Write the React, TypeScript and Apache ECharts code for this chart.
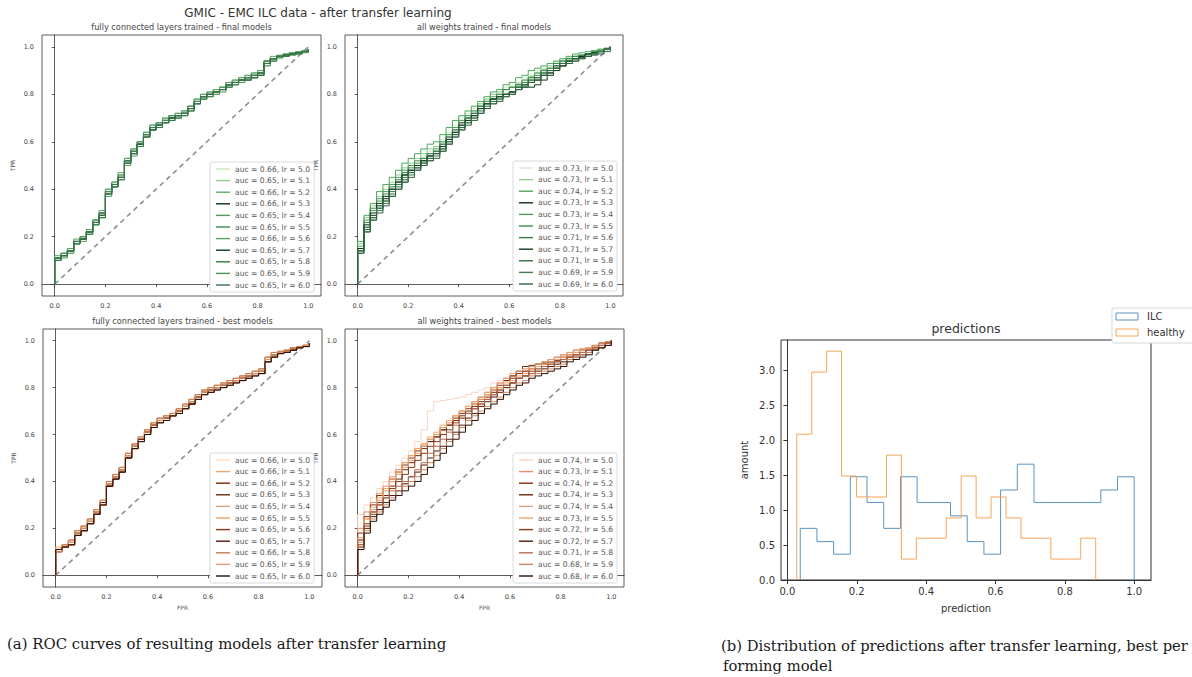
import React, { useEffect, useRef } from 'react';
import * as echarts from 'echarts';

// ---------- data ----------
const FPR_GRID = [
  0, 0.025, 0.05, 0.075, 0.1, 0.125, 0.15, 0.175, 0.2, 0.225, 0.25, 0.275, 0.3, 0.325, 0.35, 0.375, 0.4, 0.425, 0.45, 0.475,
  0.5, 0.525, 0.55, 0.575, 0.6, 0.625, 0.65, 0.675, 0.7, 0.725, 0.75, 0.775, 0.8, 0.825, 0.85, 0.875, 0.9, 0.925, 0.95, 0.975, 1.0,
];
const LR_VALUES = ['5.0', '5.1', '5.2', '5.3', '5.4', '5.5', '5.6', '5.7', '5.8', '5.9', '6.0'];
const ROC_TICKS = [0, 0.2, 0.4, 0.6, 0.8, 1.0];

const AUC_FC_FINAL = ['0.66', '0.65', '0.66', '0.66', '0.65', '0.65', '0.66', '0.65', '0.65', '0.65', '0.65'];
const AUC_ALL_FINAL = ['0.73', '0.73', '0.74', '0.73', '0.73', '0.73', '0.71', '0.71', '0.71', '0.69', '0.69'];
const AUC_FC_BEST = ['0.66', '0.66', '0.66', '0.65', '0.65', '0.65', '0.65', '0.65', '0.66', '0.65', '0.65'];
const AUC_ALL_BEST = ['0.74', '0.73', '0.74', '0.74', '0.74', '0.73', '0.72', '0.72', '0.71', '0.68', '0.68'];

const TPR_FC_FINAL = [
  [0.11, 0.12, 0.14, 0.18, 0.19, 0.22, 0.26, 0.29, 0.39, 0.42, 0.45, 0.52, 0.56, 0.59, 0.63, 0.66, 0.67, 0.69, 0.70, 0.71, 0.72, 0.74, 0.77, 0.79, 0.80, 0.81, 0.82, 0.84, 0.85, 0.86, 0.87, 0.88, 0.89, 0.93, 0.95, 0.96, 0.965, 0.97, 0.975, 0.98, 0.99],
  [0.10, 0.12, 0.13, 0.17, 0.19, 0.21, 0.25, 0.28, 0.38, 0.41, 0.45, 0.51, 0.55, 0.58, 0.62, 0.65, 0.67, 0.68, 0.70, 0.70, 0.71, 0.73, 0.76, 0.78, 0.80, 0.80, 0.82, 0.83, 0.85, 0.85, 0.86, 0.87, 0.88, 0.92, 0.94, 0.95, 0.96, 0.965, 0.97, 0.98, 0.99],
  [0.11, 0.13, 0.15, 0.18, 0.20, 0.23, 0.27, 0.30, 0.40, 0.43, 0.46, 0.53, 0.57, 0.60, 0.64, 0.67, 0.68, 0.70, 0.71, 0.72, 0.73, 0.75, 0.78, 0.80, 0.81, 0.82, 0.83, 0.85, 0.86, 0.87, 0.88, 0.89, 0.90, 0.94, 0.95, 0.96, 0.97, 0.975, 0.98, 0.985, 0.99],
  [0.11, 0.12, 0.14, 0.17, 0.19, 0.22, 0.26, 0.30, 0.39, 0.41, 0.44, 0.52, 0.55, 0.59, 0.63, 0.66, 0.67, 0.69, 0.70, 0.71, 0.72, 0.74, 0.77, 0.79, 0.80, 0.81, 0.82, 0.84, 0.85, 0.86, 0.87, 0.88, 0.89, 0.94, 0.95, 0.96, 0.965, 0.97, 0.975, 0.98, 0.99],
  [0.10, 0.11, 0.13, 0.17, 0.18, 0.21, 0.25, 0.28, 0.37, 0.41, 0.44, 0.50, 0.54, 0.58, 0.62, 0.65, 0.66, 0.68, 0.69, 0.70, 0.71, 0.73, 0.76, 0.78, 0.79, 0.80, 0.81, 0.83, 0.84, 0.85, 0.86, 0.87, 0.88, 0.92, 0.94, 0.955, 0.96, 0.965, 0.97, 0.975, 0.985],
  [0.11, 0.12, 0.14, 0.18, 0.19, 0.22, 0.27, 0.29, 0.38, 0.42, 0.45, 0.52, 0.56, 0.59, 0.63, 0.66, 0.68, 0.69, 0.70, 0.71, 0.72, 0.74, 0.77, 0.79, 0.80, 0.81, 0.82, 0.84, 0.85, 0.86, 0.87, 0.88, 0.89, 0.93, 0.95, 0.96, 0.965, 0.97, 0.975, 0.98, 0.99],
  [0.12, 0.13, 0.15, 0.19, 0.20, 0.23, 0.27, 0.31, 0.40, 0.43, 0.47, 0.53, 0.57, 0.60, 0.64, 0.67, 0.68, 0.70, 0.71, 0.72, 0.73, 0.75, 0.78, 0.80, 0.81, 0.82, 0.83, 0.85, 0.86, 0.87, 0.88, 0.89, 0.90, 0.94, 0.96, 0.965, 0.97, 0.975, 0.98, 0.985, 0.99],
  [0.11, 0.12, 0.14, 0.18, 0.19, 0.22, 0.26, 0.29, 0.39, 0.42, 0.45, 0.51, 0.56, 0.59, 0.63, 0.65, 0.67, 0.69, 0.70, 0.71, 0.72, 0.74, 0.77, 0.79, 0.80, 0.81, 0.82, 0.84, 0.85, 0.86, 0.87, 0.87, 0.88, 0.93, 0.95, 0.96, 0.965, 0.97, 0.975, 0.98, 0.99],
  [0.10, 0.12, 0.14, 0.17, 0.19, 0.21, 0.25, 0.28, 0.38, 0.41, 0.45, 0.51, 0.55, 0.58, 0.62, 0.65, 0.66, 0.68, 0.69, 0.70, 0.71, 0.73, 0.76, 0.78, 0.79, 0.81, 0.82, 0.83, 0.84, 0.86, 0.86, 0.87, 0.88, 0.93, 0.94, 0.96, 0.96, 0.97, 0.97, 0.98, 0.99],
  [0.11, 0.13, 0.14, 0.18, 0.20, 0.22, 0.26, 0.30, 0.39, 0.42, 0.46, 0.52, 0.56, 0.60, 0.63, 0.66, 0.67, 0.69, 0.71, 0.71, 0.72, 0.75, 0.77, 0.79, 0.80, 0.81, 0.83, 0.84, 0.85, 0.86, 0.87, 0.88, 0.89, 0.93, 0.95, 0.96, 0.965, 0.97, 0.975, 0.98, 0.99],
  [0.10, 0.12, 0.14, 0.18, 0.19, 0.22, 0.26, 0.29, 0.38, 0.42, 0.45, 0.52, 0.55, 0.59, 0.62, 0.66, 0.67, 0.68, 0.70, 0.71, 0.72, 0.74, 0.76, 0.79, 0.80, 0.81, 0.82, 0.84, 0.85, 0.86, 0.86, 0.88, 0.89, 0.93, 0.95, 0.96, 0.965, 0.97, 0.975, 0.98, 0.99],
];

const TPR_ALL_FINAL = [
  [0.15, 0.25, 0.30, 0.34, 0.37, 0.41, 0.44, 0.47, 0.50, 0.52, 0.54, 0.56, 0.58, 0.61, 0.64, 0.67, 0.70, 0.72, 0.74, 0.76, 0.78, 0.80, 0.81, 0.83, 0.84, 0.85, 0.87, 0.88, 0.90, 0.91, 0.92, 0.94, 0.95, 0.955, 0.96, 0.965, 0.97, 0.975, 0.98, 0.99, 1.0],
  [0.17, 0.28, 0.33, 0.37, 0.40, 0.43, 0.46, 0.49, 0.51, 0.53, 0.55, 0.57, 0.58, 0.60, 0.63, 0.66, 0.69, 0.71, 0.73, 0.76, 0.78, 0.80, 0.81, 0.82, 0.83, 0.845, 0.86, 0.875, 0.89, 0.905, 0.92, 0.93, 0.94, 0.95, 0.96, 0.965, 0.97, 0.98, 0.99, 0.99, 1.0],
  [0.18, 0.29, 0.34, 0.39, 0.42, 0.45, 0.48, 0.51, 0.53, 0.55, 0.57, 0.59, 0.60, 0.63, 0.66, 0.69, 0.71, 0.73, 0.75, 0.77, 0.79, 0.81, 0.82, 0.84, 0.85, 0.87, 0.88, 0.90, 0.91, 0.92, 0.93, 0.94, 0.95, 0.96, 0.97, 0.975, 0.98, 0.985, 0.99, 0.995, 1.0],
  [0.14, 0.24, 0.29, 0.33, 0.36, 0.40, 0.43, 0.46, 0.48, 0.50, 0.52, 0.54, 0.56, 0.59, 0.62, 0.65, 0.68, 0.70, 0.72, 0.75, 0.77, 0.78, 0.79, 0.80, 0.81, 0.83, 0.84, 0.85, 0.86, 0.88, 0.89, 0.91, 0.92, 0.94, 0.95, 0.96, 0.97, 0.975, 0.98, 0.99, 1.0],
  [0.16, 0.27, 0.31, 0.36, 0.39, 0.42, 0.45, 0.48, 0.50, 0.52, 0.53, 0.55, 0.57, 0.60, 0.63, 0.66, 0.69, 0.71, 0.73, 0.75, 0.77, 0.79, 0.80, 0.82, 0.83, 0.84, 0.86, 0.87, 0.89, 0.90, 0.91, 0.93, 0.94, 0.95, 0.96, 0.965, 0.97, 0.98, 0.985, 0.99, 1.0],
  [0.15, 0.26, 0.32, 0.35, 0.38, 0.41, 0.44, 0.47, 0.49, 0.51, 0.53, 0.55, 0.56, 0.58, 0.61, 0.64, 0.67, 0.70, 0.72, 0.74, 0.76, 0.78, 0.80, 0.82, 0.83, 0.84, 0.85, 0.87, 0.88, 0.90, 0.91, 0.93, 0.94, 0.95, 0.96, 0.965, 0.97, 0.975, 0.98, 0.99, 1.0],
  [0.14, 0.23, 0.28, 0.32, 0.35, 0.39, 0.42, 0.45, 0.47, 0.49, 0.51, 0.53, 0.55, 0.57, 0.60, 0.63, 0.66, 0.69, 0.71, 0.74, 0.76, 0.78, 0.79, 0.80, 0.81, 0.83, 0.84, 0.86, 0.87, 0.89, 0.90, 0.92, 0.93, 0.94, 0.95, 0.955, 0.96, 0.97, 0.98, 0.99, 1.0],
  [0.15, 0.25, 0.30, 0.34, 0.37, 0.40, 0.43, 0.46, 0.48, 0.50, 0.52, 0.54, 0.55, 0.58, 0.61, 0.64, 0.67, 0.69, 0.71, 0.74, 0.76, 0.78, 0.79, 0.80, 0.81, 0.82, 0.83, 0.83, 0.84, 0.86, 0.88, 0.90, 0.92, 0.94, 0.95, 0.96, 0.97, 0.975, 0.98, 0.99, 1.0],
  [0.13, 0.23, 0.28, 0.32, 0.35, 0.38, 0.41, 0.44, 0.47, 0.49, 0.51, 0.53, 0.55, 0.57, 0.60, 0.63, 0.66, 0.68, 0.70, 0.73, 0.75, 0.77, 0.78, 0.80, 0.81, 0.83, 0.84, 0.86, 0.87, 0.89, 0.90, 0.92, 0.93, 0.94, 0.95, 0.955, 0.96, 0.97, 0.98, 0.99, 1.0],
  [0.14, 0.22, 0.27, 0.31, 0.34, 0.37, 0.40, 0.43, 0.46, 0.48, 0.50, 0.52, 0.54, 0.56, 0.59, 0.62, 0.65, 0.68, 0.70, 0.72, 0.74, 0.76, 0.78, 0.79, 0.80, 0.82, 0.83, 0.85, 0.86, 0.88, 0.89, 0.91, 0.92, 0.93, 0.94, 0.95, 0.96, 0.97, 0.98, 0.99, 1.0],
  [0.13, 0.22, 0.27, 0.30, 0.33, 0.37, 0.40, 0.43, 0.45, 0.48, 0.50, 0.52, 0.53, 0.56, 0.59, 0.62, 0.65, 0.67, 0.69, 0.72, 0.74, 0.76, 0.77, 0.79, 0.80, 0.82, 0.83, 0.85, 0.86, 0.88, 0.89, 0.91, 0.92, 0.93, 0.94, 0.95, 0.96, 0.965, 0.97, 0.98, 1.0],
];

const TPR_FC_BEST = [
  [0.11, 0.13, 0.14, 0.18, 0.20, 0.23, 0.27, 0.31, 0.39, 0.42, 0.45, 0.51, 0.55, 0.58, 0.61, 0.64, 0.66, 0.67, 0.68, 0.70, 0.72, 0.74, 0.76, 0.78, 0.79, 0.80, 0.81, 0.82, 0.83, 0.84, 0.85, 0.86, 0.87, 0.92, 0.94, 0.95, 0.955, 0.965, 0.97, 0.98, 0.99],
  [0.12, 0.13, 0.15, 0.19, 0.21, 0.24, 0.28, 0.32, 0.40, 0.43, 0.46, 0.52, 0.56, 0.59, 0.62, 0.65, 0.67, 0.68, 0.69, 0.71, 0.73, 0.75, 0.77, 0.79, 0.80, 0.81, 0.82, 0.83, 0.84, 0.85, 0.86, 0.87, 0.88, 0.93, 0.95, 0.955, 0.96, 0.97, 0.975, 0.98, 0.99],
  [0.11, 0.12, 0.14, 0.17, 0.19, 0.22, 0.26, 0.30, 0.38, 0.41, 0.44, 0.50, 0.54, 0.57, 0.60, 0.63, 0.65, 0.67, 0.68, 0.69, 0.71, 0.73, 0.75, 0.77, 0.78, 0.79, 0.80, 0.81, 0.82, 0.83, 0.84, 0.85, 0.86, 0.91, 0.93, 0.945, 0.95, 0.96, 0.97, 0.975, 0.99],
  [0.10, 0.12, 0.13, 0.17, 0.19, 0.22, 0.26, 0.30, 0.38, 0.41, 0.44, 0.50, 0.54, 0.57, 0.61, 0.64, 0.66, 0.67, 0.68, 0.70, 0.72, 0.73, 0.76, 0.78, 0.79, 0.80, 0.81, 0.82, 0.83, 0.84, 0.85, 0.86, 0.86, 0.92, 0.94, 0.95, 0.955, 0.96, 0.97, 0.98, 0.99],
  [0.11, 0.13, 0.15, 0.19, 0.21, 0.24, 0.28, 0.31, 0.40, 0.43, 0.46, 0.52, 0.56, 0.58, 0.62, 0.65, 0.67, 0.68, 0.69, 0.71, 0.73, 0.75, 0.77, 0.79, 0.80, 0.81, 0.82, 0.83, 0.84, 0.85, 0.86, 0.87, 0.88, 0.93, 0.94, 0.95, 0.96, 0.97, 0.975, 0.98, 0.99],
  [0.11, 0.13, 0.14, 0.18, 0.20, 0.23, 0.27, 0.30, 0.39, 0.42, 0.45, 0.51, 0.55, 0.58, 0.61, 0.64, 0.66, 0.67, 0.68, 0.70, 0.72, 0.74, 0.76, 0.78, 0.79, 0.80, 0.81, 0.82, 0.83, 0.84, 0.85, 0.86, 0.87, 0.92, 0.94, 0.95, 0.955, 0.965, 0.97, 0.98, 0.99],
  [0.10, 0.12, 0.13, 0.17, 0.19, 0.22, 0.26, 0.30, 0.38, 0.42, 0.45, 0.51, 0.55, 0.58, 0.61, 0.64, 0.66, 0.67, 0.68, 0.70, 0.71, 0.73, 0.76, 0.78, 0.79, 0.80, 0.81, 0.82, 0.83, 0.84, 0.85, 0.86, 0.86, 0.91, 0.93, 0.95, 0.955, 0.96, 0.97, 0.98, 0.99],
  [0.11, 0.12, 0.14, 0.18, 0.20, 0.23, 0.27, 0.31, 0.39, 0.42, 0.45, 0.51, 0.55, 0.58, 0.61, 0.64, 0.66, 0.67, 0.68, 0.70, 0.72, 0.74, 0.76, 0.78, 0.79, 0.80, 0.81, 0.82, 0.83, 0.84, 0.85, 0.86, 0.87, 0.92, 0.94, 0.95, 0.955, 0.965, 0.97, 0.98, 0.99],
  [0.11, 0.13, 0.15, 0.19, 0.21, 0.24, 0.28, 0.32, 0.40, 0.43, 0.46, 0.52, 0.56, 0.59, 0.62, 0.65, 0.67, 0.68, 0.69, 0.71, 0.73, 0.75, 0.77, 0.79, 0.80, 0.81, 0.82, 0.83, 0.84, 0.85, 0.86, 0.87, 0.88, 0.93, 0.95, 0.955, 0.96, 0.97, 0.975, 0.98, 0.99],
  [0.10, 0.12, 0.14, 0.18, 0.20, 0.23, 0.27, 0.30, 0.39, 0.42, 0.45, 0.51, 0.55, 0.57, 0.61, 0.64, 0.66, 0.67, 0.68, 0.70, 0.72, 0.74, 0.76, 0.78, 0.79, 0.80, 0.81, 0.82, 0.83, 0.84, 0.85, 0.86, 0.87, 0.92, 0.94, 0.95, 0.955, 0.965, 0.97, 0.98, 0.99],
  [0.11, 0.12, 0.13, 0.17, 0.19, 0.22, 0.26, 0.30, 0.38, 0.41, 0.44, 0.50, 0.54, 0.57, 0.60, 0.63, 0.65, 0.66, 0.68, 0.69, 0.71, 0.73, 0.75, 0.77, 0.78, 0.79, 0.80, 0.81, 0.82, 0.83, 0.84, 0.85, 0.86, 0.91, 0.93, 0.945, 0.95, 0.96, 0.97, 0.975, 0.99],
];

const TPR_ALL_BEST = [
  [0.26, 0.30, 0.33, 0.37, 0.40, 0.44, 0.47, 0.50, 0.53, 0.57, 0.62, 0.70, 0.74, 0.745, 0.75, 0.755, 0.76, 0.77, 0.78, 0.79, 0.80, 0.82, 0.83, 0.84, 0.85, 0.87, 0.88, 0.89, 0.90, 0.91, 0.92, 0.93, 0.94, 0.95, 0.96, 0.965, 0.97, 0.975, 0.98, 0.99, 1.0],
  [0.20, 0.27, 0.31, 0.35, 0.38, 0.42, 0.45, 0.48, 0.51, 0.54, 0.56, 0.58, 0.60, 0.63, 0.65, 0.68, 0.70, 0.72, 0.74, 0.76, 0.78, 0.80, 0.82, 0.84, 0.85, 0.86, 0.87, 0.89, 0.90, 0.91, 0.92, 0.93, 0.94, 0.95, 0.96, 0.965, 0.97, 0.98, 0.99, 0.995, 1.0],
  [0.18, 0.25, 0.30, 0.34, 0.37, 0.41, 0.44, 0.47, 0.50, 0.53, 0.55, 0.57, 0.59, 0.62, 0.64, 0.67, 0.69, 0.71, 0.73, 0.75, 0.77, 0.79, 0.81, 0.83, 0.84, 0.86, 0.87, 0.88, 0.89, 0.90, 0.91, 0.92, 0.93, 0.94, 0.95, 0.96, 0.97, 0.98, 0.99, 0.995, 1.0],
  [0.15, 0.22, 0.27, 0.31, 0.34, 0.38, 0.41, 0.45, 0.48, 0.51, 0.54, 0.57, 0.59, 0.62, 0.64, 0.66, 0.68, 0.70, 0.72, 0.74, 0.76, 0.78, 0.80, 0.83, 0.85, 0.87, 0.89, 0.895, 0.90, 0.905, 0.91, 0.915, 0.92, 0.93, 0.94, 0.95, 0.96, 0.97, 0.98, 0.99, 1.0],
  [0.16, 0.24, 0.28, 0.32, 0.36, 0.40, 0.43, 0.46, 0.49, 0.52, 0.55, 0.58, 0.60, 0.63, 0.66, 0.68, 0.70, 0.72, 0.74, 0.76, 0.78, 0.80, 0.82, 0.84, 0.86, 0.87, 0.88, 0.89, 0.90, 0.91, 0.92, 0.93, 0.94, 0.95, 0.96, 0.965, 0.97, 0.98, 0.99, 0.995, 1.0],
  [0.14, 0.24, 0.29, 0.33, 0.37, 0.41, 0.44, 0.48, 0.51, 0.54, 0.56, 0.59, 0.61, 0.64, 0.66, 0.68, 0.70, 0.72, 0.73, 0.75, 0.77, 0.79, 0.80, 0.82, 0.83, 0.85, 0.86, 0.88, 0.89, 0.90, 0.91, 0.92, 0.93, 0.94, 0.95, 0.96, 0.97, 0.975, 0.98, 0.99, 1.0],
  [0.13, 0.21, 0.26, 0.30, 0.33, 0.37, 0.40, 0.43, 0.46, 0.49, 0.52, 0.55, 0.57, 0.60, 0.62, 0.65, 0.67, 0.69, 0.71, 0.73, 0.75, 0.77, 0.79, 0.81, 0.82, 0.84, 0.85, 0.87, 0.88, 0.89, 0.90, 0.91, 0.92, 0.93, 0.94, 0.95, 0.96, 0.97, 0.98, 0.99, 1.0],
  [0.12, 0.20, 0.25, 0.28, 0.31, 0.34, 0.36, 0.39, 0.42, 0.44, 0.47, 0.50, 0.53, 0.55, 0.58, 0.61, 0.64, 0.67, 0.69, 0.72, 0.74, 0.76, 0.78, 0.80, 0.82, 0.84, 0.85, 0.86, 0.87, 0.88, 0.89, 0.90, 0.91, 0.92, 0.93, 0.94, 0.95, 0.96, 0.97, 0.98, 1.0],
  [0.15, 0.22, 0.27, 0.30, 0.33, 0.36, 0.38, 0.40, 0.42, 0.45, 0.48, 0.52, 0.55, 0.58, 0.61, 0.64, 0.67, 0.69, 0.71, 0.73, 0.75, 0.77, 0.79, 0.81, 0.82, 0.84, 0.85, 0.86, 0.87, 0.89, 0.90, 0.91, 0.92, 0.93, 0.94, 0.95, 0.96, 0.97, 0.98, 0.99, 1.0],
  [0.12, 0.19, 0.24, 0.27, 0.30, 0.33, 0.36, 0.38, 0.40, 0.42, 0.45, 0.48, 0.51, 0.54, 0.57, 0.60, 0.63, 0.66, 0.68, 0.70, 0.72, 0.74, 0.76, 0.78, 0.80, 0.82, 0.83, 0.85, 0.86, 0.87, 0.88, 0.89, 0.90, 0.92, 0.93, 0.94, 0.95, 0.96, 0.97, 0.98, 1.0],
  [0.11, 0.18, 0.23, 0.26, 0.29, 0.32, 0.34, 0.36, 0.38, 0.40, 0.43, 0.46, 0.49, 0.52, 0.55, 0.58, 0.61, 0.64, 0.66, 0.69, 0.71, 0.73, 0.75, 0.77, 0.79, 0.81, 0.82, 0.84, 0.85, 0.86, 0.87, 0.88, 0.89, 0.91, 0.92, 0.93, 0.94, 0.96, 0.97, 0.98, 1.0],
];

const HIST_X_TICKS = [0, 0.2, 0.4, 0.6, 0.8, 1.0];
const ILC_RANGE = [0.037, 1.0];
const ILC_DENSITY = [0.74, 0.55, 0.37, 1.48, 1.11, 0.74, 1.48, 1.11, 1.11, 0.92, 0.55, 0.37, 1.29, 1.66, 1.11, 1.11, 1.11, 1.11, 1.29, 1.48];
const HEALTHY_RANGE = [0.027, 0.889];
const HEALTHY_DENSITY = [2.09, 2.98, 3.28, 1.49, 1.19, 1.19, 1.79, 0.30, 0.60, 0.60, 0.89, 1.49, 0.89, 1.19, 0.89, 0.60, 0.60, 0.30, 0.30, 0.60];

// ---------- styles ----------
const GREENS_A = ['#c7e9c0', '#8fcf8a', '#5fae6a', '#0b2e14', '#4f9a5f', '#3d8a50', '#5aa066', '#0f3a1c', '#2f7d45', '#4f9060', '#3c6e4b'];
const GREENS_B = ['#d2ecc9', '#8fcf8a', '#4fa85f', '#0b2e14', '#4f9a5f', '#3d8a50', '#2f7d45', '#0f3a1c', '#2f6e3f', '#3f7d50', '#365f44'];
const BROWNS_A = ['#fde0c5', '#f4a76a', '#7f2704', '#6b2a0c', '#d9a27e', '#f0a060', '#8a3a10', '#4d1a06', '#c97a50', '#e59a6a', '#2b0d04'];
const BROWNS_B = ['#fbd5c5', '#f08a6a', '#8a2d0a', '#6b2a0c', '#d9a27e', '#f0a868', '#8a3a10', '#4d1a06', '#b56a55', '#c98a62', '#2b0d04'];

const SANS = '"DejaVu Sans", sans-serif';
const SERIF = '"DejaVu Serif", serif';

const PANELS = [
  { key: 'fcf', title: 'fully connected layers trained - final models', grid: { left: 42, top: 35, width: 279, height: 261 }, tpr: TPR_FC_FINAL, auc: AUC_FC_FINAL, colors: GREENS_A, legend: { left: 210, top: 162 }, fprName: false },
  { key: 'allf', title: 'all weights trained - final models', grid: { left: 345, top: 35, width: 278, height: 261 }, tpr: TPR_ALL_FINAL, auc: AUC_ALL_FINAL, colors: GREENS_B, legend: { left: 513, top: 161 }, fprName: false },
  { key: 'fcb', title: 'fully connected layers trained - best models', grid: { left: 43, top: 329, width: 279, height: 258 }, tpr: TPR_FC_BEST, auc: AUC_FC_BEST, colors: BROWNS_A, legend: { left: 210, top: 453 }, fprName: true },
  { key: 'allb', title: 'all weights trained - best models', grid: { left: 345, top: 329, width: 279, height: 258 }, tpr: TPR_ALL_BEST, auc: AUC_ALL_BEST, colors: BROWNS_B, legend: { left: 513, top: 453 }, fprName: true },
];

const HIST_GRID = { left: 781, top: 340, width: 370, height: 240 };

function histPoints(range: number[], values: number[]) {
  const w = (range[1] - range[0]) / values.length;
  const pts: number[][] = [[range[0], 0]];
  values.forEach((v, i) => pts.push([range[0] + i * w, v]));
  pts.push([range[1], 0]);
  return pts;
}

function buildOption() {
  const grids: any[] = [];
  const xAxes: any[] = [];
  const yAxes: any[] = [];
  const series: any[] = [];
  const legends: any[] = [];
  const graphics: any[] = [];

  PANELS.forEach((p, pi) => {
    grids.push({ ...p.grid, show: true, borderColor: '#333', borderWidth: 0.8, backgroundColor: '#fff', containLabel: false });
    xAxes.push({
      type: 'value', gridIndex: pi, min: -0.05, max: 1.05,
      name: p.fprName ? 'FPR' : '', nameLocation: 'middle', nameGap: 17,
      nameTextStyle: { fontSize: 6, color: '#555555', fontFamily: SANS },
      axisLine: { show: true, lineStyle: { color: '#333', width: 0.8 } },
      axisTick: { show: true, length: 3, customValues: ROC_TICKS, lineStyle: { color: '#333', width: 0.8 } },
      axisLabel: { customValues: ROC_TICKS, formatter: (v: number) => v.toFixed(1), fontSize: 6.5, color: '#444444', margin: 6, fontFamily: SANS },
      splitLine: { show: false },
    });
    yAxes.push({
      type: 'value', gridIndex: pi, min: -0.05, max: 1.05,
      name: 'TPR', nameLocation: 'middle', nameGap: 27,
      nameTextStyle: { fontSize: 6, color: '#555555', fontFamily: SANS },
      axisLine: { show: true, lineStyle: { color: '#333', width: 0.8 } },
      axisTick: { show: true, length: 3, customValues: ROC_TICKS, lineStyle: { color: '#333', width: 0.8 } },
      axisLabel: { customValues: ROC_TICKS, formatter: (v: number) => v.toFixed(1), fontSize: 6.5, color: '#444444', margin: 8, fontFamily: SANS },
      splitLine: { show: false },
    });

    series.push({
      type: 'line', xAxisIndex: pi, yAxisIndex: pi, data: [[0, 0], [1, 1]], symbol: 'none', silent: true, z: 1,
      lineStyle: { type: [5, 4], width: 1.6, color: '#8f8f8f' },
    });

    const names: string[] = [];
    const labels: Record<string, string> = {};
    p.tpr.forEach((ys, i) => {
      const name = `${p.key}-${i}`;
      names.push(name);
      labels[name] = `auc = ${p.auc[i]}, lr = ${LR_VALUES[i]}`;
      const data = [[0, 0], ...ys.map((y, j) => [FPR_GRID[j], y])];
      const color = p.colors[i];
      series.push({
        name, type: 'line', xAxisIndex: pi, yAxisIndex: pi, data, step: 'end', symbol: 'none', z: 3,
        lineStyle: { width: 1, color }, itemStyle: { color },
      });
    });

    legends.push({
      orient: 'vertical', left: p.legend.left, top: p.legend.top, data: names,
      formatter: (n: string) => labels[n], selectedMode: false,
      icon: 'rect', itemWidth: 14, itemHeight: 1.4, itemGap: 3.6,
      textStyle: { fontSize: 7.6, color: '#555', fontFamily: SANS, lineHeight: 8 },
      backgroundColor: '#fff', borderColor: '#d0d0d0', borderWidth: 0.8, borderRadius: 2,
      padding: [3, 4, 3, 6],
    });

    graphics.push({
      type: 'text', x: p.grid.left + p.grid.width / 2, y: p.grid.top - 8,
      style: { text: p.title, fontSize: 8.2, fontFamily: SANS, fill: '#444', align: 'center', verticalAlign: 'middle' },
    });
  });

  // histogram
  const hi = PANELS.length;
  grids.push({ ...HIST_GRID, show: true, borderColor: '#333', borderWidth: 1, backgroundColor: '#fff' });
  xAxes.push({
    type: 'value', gridIndex: hi, min: -0.0185, max: 1.0485,
    name: 'prediction', nameLocation: 'middle', nameGap: 23,
    nameTextStyle: { fontSize: 10, color: '#333', fontFamily: SANS },
    axisLine: { show: true, lineStyle: { color: '#333' } },
    axisTick: { show: true, length: 4, customValues: HIST_X_TICKS, lineStyle: { color: '#333' } },
    axisLabel: { customValues: HIST_X_TICKS, formatter: (v: number) => v.toFixed(1), fontSize: 10, color: '#333', margin: 6, fontFamily: SANS },
    splitLine: { show: false },
  });
  yAxes.push({
    type: 'value', gridIndex: hi, min: 0, max: 3.44, interval: 0.5,
    name: 'amount', nameLocation: 'middle', nameGap: 32,
    nameTextStyle: { fontSize: 10, color: '#333', fontFamily: SANS },
    axisLine: { show: true, lineStyle: { color: '#333' } },
    axisTick: { show: true, length: 4, lineStyle: { color: '#333' } },
    axisLabel: { formatter: (v: number) => v.toFixed(1), fontSize: 10, color: '#333', margin: 6, fontFamily: SANS, showMaxLabel: false },
    splitLine: { show: false },
  });
  series.push({
    name: 'ILC', type: 'line', xAxisIndex: hi, yAxisIndex: hi, data: histPoints(ILC_RANGE, ILC_DENSITY),
    step: 'end', symbol: 'none', lineStyle: { width: 1, color: '#5b93c0' }, itemStyle: { color: '#5b93c0' },
  });
  series.push({
    name: 'healthy', type: 'line', xAxisIndex: hi, yAxisIndex: hi, data: histPoints(HEALTHY_RANGE, HEALTHY_DENSITY),
    step: 'end', symbol: 'none', lineStyle: { width: 1, color: '#f5a55a' }, itemStyle: { color: '#f5a55a' },
  });

  graphics.push(
    { type: 'text', x: 318, y: 13, style: { text: 'GMIC - EMC ILC data - after transfer learning', fontSize: 12, fontFamily: SANS, fill: '#333', align: 'center', verticalAlign: 'middle' } },
    { type: 'text', x: HIST_GRID.left + HIST_GRID.width / 2, y: 328, style: { text: 'predictions', fontSize: 12.5, fontFamily: SANS, fill: '#333', align: 'center', verticalAlign: 'middle' } },
    { type: 'rect', shape: { x: 1112, y: 308, width: 90, height: 35, r: 2 }, style: { fill: '#fff', stroke: '#d8d8d8', lineWidth: 1 }, z: 10 },
    { type: 'rect', shape: { x: 1116, y: 313, width: 22, height: 7 }, style: { fill: 'none', stroke: '#5b93c0', lineWidth: 1 }, z: 11 },
    { type: 'text', x: 1147, y: 316.5, style: { text: 'ILC', fontSize: 10, fontFamily: SANS, fill: '#333', verticalAlign: 'middle' }, z: 11 },
    { type: 'rect', shape: { x: 1116, y: 329, width: 22, height: 7 }, style: { fill: 'none', stroke: '#f5a55a', lineWidth: 1 }, z: 11 },
    { type: 'text', x: 1147, y: 332.5, style: { text: 'healthy', fontSize: 10, fontFamily: SANS, fill: '#333', verticalAlign: 'middle' }, z: 11 },
    { type: 'text', x: 7, y: 644, style: { text: '(a) ROC curves of resulting models after transfer learning', fontSize: 14.9, fontFamily: SERIF, fill: '#1a1a1a', verticalAlign: 'middle' } },
    { type: 'text', x: 721, y: 645, style: { text: '(b) Distribution of predictions after transfer learning, best per', fontSize: 14.75, fontFamily: SERIF, fill: '#1a1a1a', verticalAlign: 'middle' } },
    { type: 'text', x: 723, y: 665, style: { text: 'forming model', fontSize: 14.75, fontFamily: SERIF, fill: '#1a1a1a', verticalAlign: 'middle' } },
  );

  return {
    animation: false,
    backgroundColor: '#fff',
    grid: grids,
    xAxis: xAxes,
    yAxis: yAxes,
    legend: legends,
    series,
    graphic: graphics,
  };
}

export default function App() {
  const ref = useRef<HTMLDivElement>(null);
  useEffect(() => {
    if (!ref.current) return;
    const chart = echarts.init(ref.current, null, { renderer: 'svg' });
    chart.setOption(buildOption() as any);
    return () => chart.dispose();
  }, []);
  return <div ref={ref} style={{ position: 'absolute', left: 0, top: 0, width: 1192, height: 677 }} />;
}
